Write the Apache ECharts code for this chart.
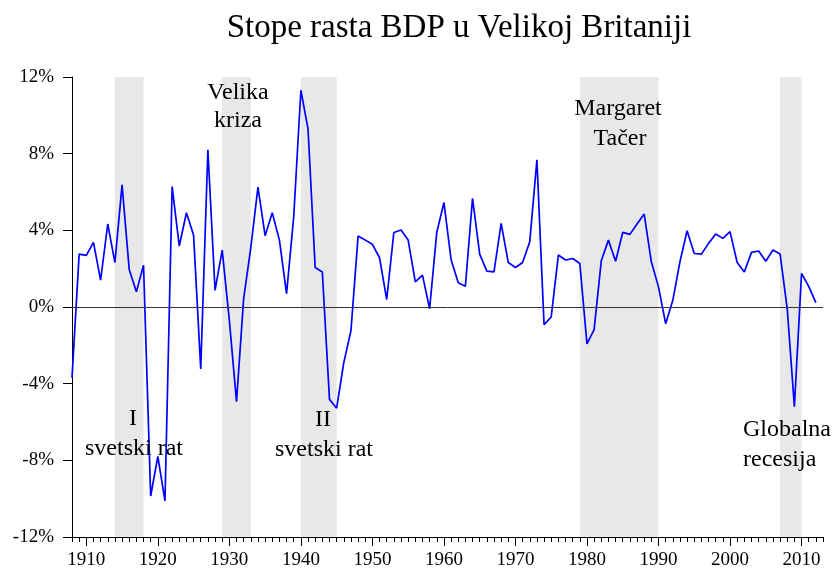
<!DOCTYPE html>
<html>
<head>
<meta charset="utf-8">
<title>Stope rasta BDP u Velikoj Britaniji</title>
<script src="https://cdn.jsdelivr.net/npm/echarts@6/dist/echarts.min.js"></script>
<style>
  html, body { margin: 0; padding: 0; background: #fff; }
  #main { width: 835px; height: 574px; }
</style>
</head>
<body>
<div id="main"></div>
<script>
// godine na x osi (osa ide do 2013, podaci do 2012)
var firstYear = 1908
var lastYear = 2013
var years = []
for (var yr = firstYear; yr <= lastYear; yr++) {
  years.push(String(yr))
}

// stopa rasta BDP-a (%), 1908-2012
var growth = [
  -3.7, 2.76, 2.69, 3.37, 1.40, 4.33, 2.32, 6.37, 1.96, 0.79,   // 1908-1917
  2.18, -9.86, -7.8, -10.12, 6.28, 3.18, 4.92, 3.75, -3.23, 8.2, // 1918-1927
  0.87, 2.97, -0.7, -4.94, 0.44, 3.1, 6.25, 3.72, 4.92, 3.49,    // 1928-1937
  0.70, 4.71, 11.31, 9.29, 2.06, 1.83, -4.82, -5.28, -2.9, -1.24, // 1938-1947
  3.70, 3.49, 3.27, 2.57, 0.39, 3.89, 4.02, 3.49, 1.31, 1.66,    // 1948-1957
  -0.09, 3.89, 5.45, 2.48, 1.26, 1.08, 5.67, 2.76, 1.87, 1.83,   // 1958-1967
  4.36, 2.32, 2.06, 2.32, 3.40, 7.68, -0.92, -0.52, 2.71, 2.45,  // 1968-1977
  2.53, 2.27, -1.92, -1.18, 2.41, 3.49, 2.39, 3.89, 3.79, 4.33,  // 1978-1987
  4.85, 2.36, 1.05, -0.87, 0.35, 2.36, 3.98, 2.79, 2.76, 3.32,   // 1988-1997
  3.81, 3.58, 3.93, 2.32, 1.83, 2.85, 2.92, 2.39, 2.97, 2.76,    // 1998-2007
  -0.1, -5.2, 1.75, 1.08, 0.23                                    // 2008-2012
]

// osenceni periodi
var shadeStart = ['1914', '1929', '1940', '1979', '2007']
var shadeEnd = ['1918', '1933', '1945', '1990', '2010']

// tekst na y osi
var yTicks = { min: -12, max: 12, step: 4 }

var serif = '"Liberation Serif", "Times New Roman", serif'

function isDecade(index, value) {
  return Number(value) % 10 === 0
}

var shadeAreas = shadeStart.map(function(s, i) {
  return [{ xAxis: s }, { xAxis: shadeEnd[i] }]
})

// natpisi u grafikonu
function note(text, x, y, align) {
  return {
    type: 'text',
    x: x,
    y: y - 8,
    z: 100,
    style: {
      text: text,
      font: '24px ' + serif,
      fill: '#000',
      align: align || 'center',
      textAlign: align || 'center',
      verticalAlign: 'middle',
      textVerticalAlign: 'middle'
    }
  }
}

var chart = echarts.init(document.getElementById('main'))

chart.setOption({
  animation: false,
  backgroundColor: '#fff',
  title: {
    text: 'Stope rasta BDP u Velikoj Britaniji',
    left: 454,
    top: 7,
    textAlign: 'center',
    textStyle: {
      fontFamily: serif,
      fontSize: 33,
      fontWeight: 'normal',
      color: '#000'
    }
  },
  grid: {
    left: 72,
    right: 12,
    top: 77,
    bottom: 37
  },
  xAxis: [
    {
      // sitni podeoci za svaku godinu
      type: 'category',
      data: years,
      boundaryGap: false,
      position: 'bottom',
      axisLine: { onZero: false, lineStyle: { color: '#000', width: 1 } },
      axisTick: { interval: 0, length: 5, lineStyle: { color: '#000' } },
      axisLabel: { show: false },
      splitLine: { show: false }
    },
    {
      // decenije
      type: 'category',
      data: years,
      boundaryGap: false,
      position: 'bottom',
      axisLine: { show: false, onZero: false },
      axisTick: { interval: isDecade, length: 9, lineStyle: { color: '#000' } },
      axisLabel: {
        interval: isDecade,
        margin: 14,
        fontFamily: serif,
        fontSize: 19,
        color: '#000'
      },
      splitLine: { show: false }
    }
  ],
  yAxis: {
    type: 'value',
    min: yTicks.min,
    max: yTicks.max,
    interval: yTicks.step,
    axisLine: { show: true, lineStyle: { color: '#000', width: 1 } },
    axisTick: { show: true, length: 9, lineStyle: { color: '#000' } },
    axisLabel: {
      formatter: '{value}%',
      margin: 18,
      fontFamily: serif,
      fontSize: 19,
      color: '#000'
    },
    splitLine: { show: false }
  },
  series: [
    {
      name: 'Stopa rasta',
      type: 'line',
      xAxisIndex: 0,
      data: growth,
      symbol: 'none',
      showSymbol: false,
      lineStyle: { color: '#0000ff', width: 1.7 },
      itemStyle: { color: '#0000ff' },
      markArea: {
        silent: true,
        itemStyle: { color: '#e8e8e8' },
        data: shadeAreas
      },
      markLine: {
        silent: true,
        symbol: 'none',
        label: { show: false },
        lineStyle: { color: '#333', width: 1, type: 'solid' },
        data: [{ yAxis: 0 }]
      }
    }
  ],
  graphic: [
    note('Velika', 238, 101),
    note('kriza', 238, 129),
    note('I', 133, 427),
    note('svetski rat', 134, 457),
    note('II', 323, 428),
    note('svetski rat', 324, 458),
    note('Margaret', 618, 117),
    note('Tačer', 620, 147),
    note('Globalna', 743, 438, 'left'),
    note('recesija', 743, 468, 'left')
  ]
})
</script>
</body>
</html>
